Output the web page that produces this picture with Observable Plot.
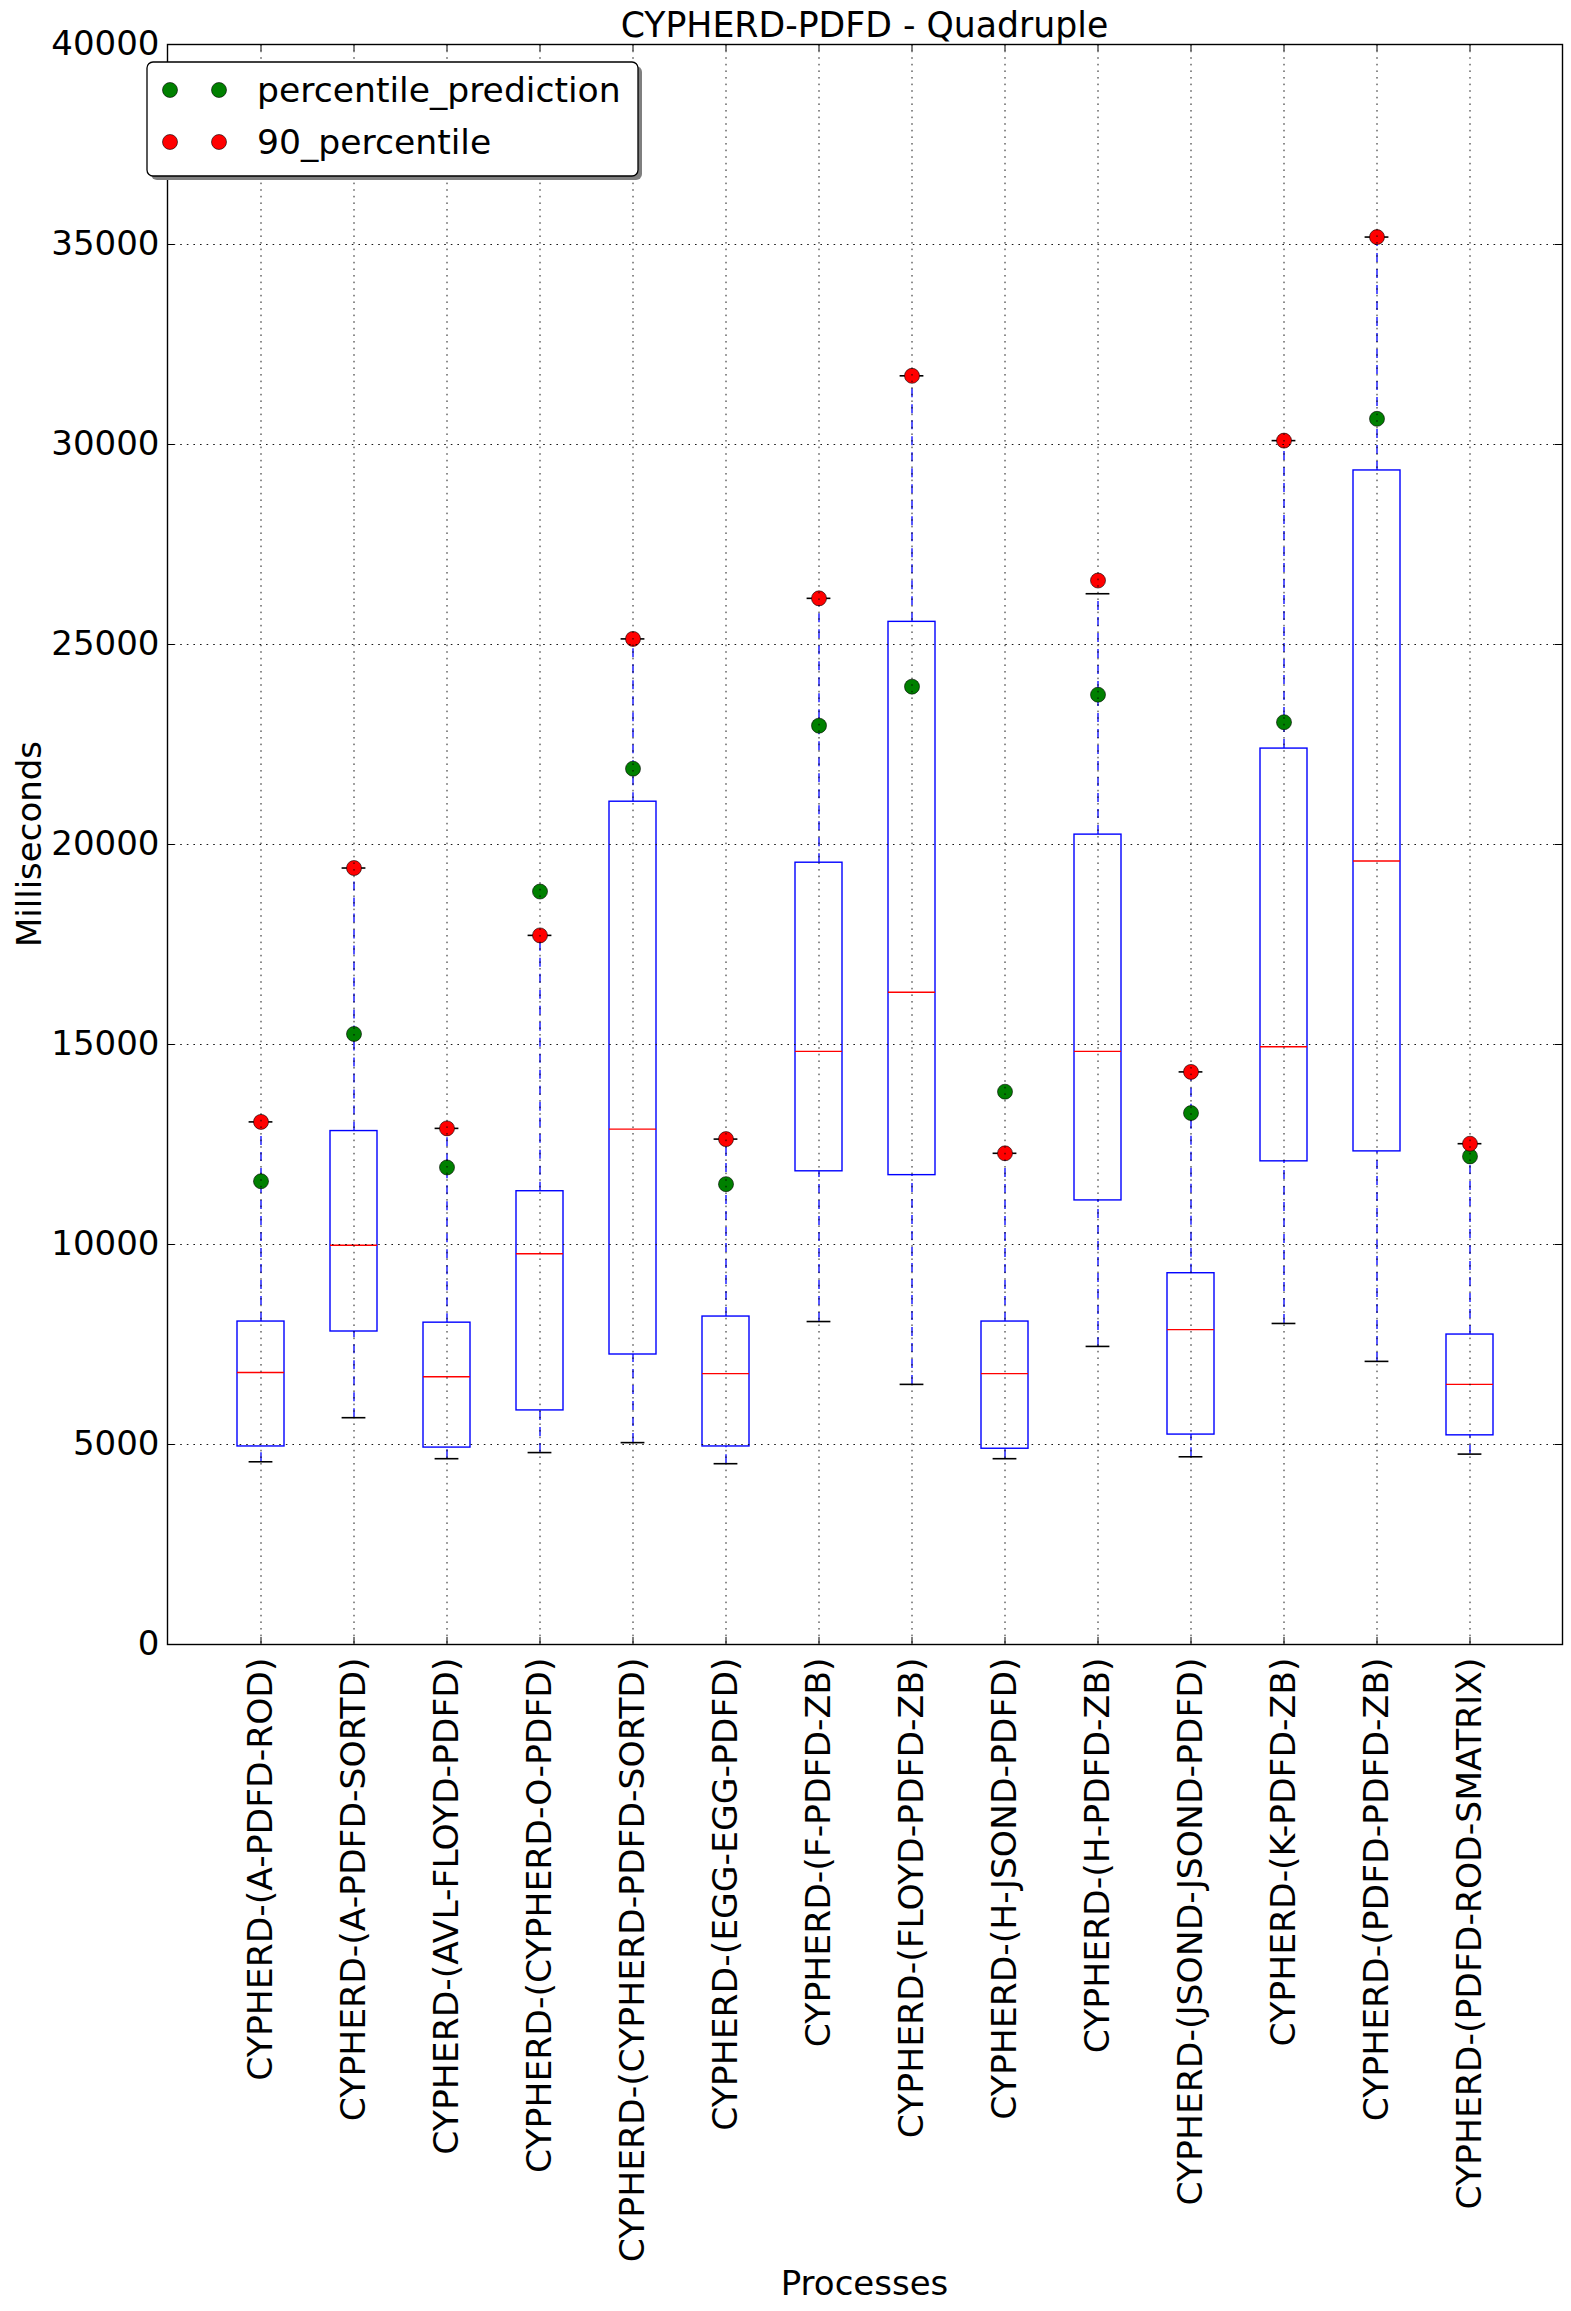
<!DOCTYPE html>
<html>
<head>
<meta charset="utf-8">
<script src="https://cdn.jsdelivr.net/npm/d3@7"></script>
<script src="https://cdn.jsdelivr.net/npm/@observablehq/plot@0.6"></script>
<style>
  html, body { margin: 0; padding: 0; background: white; }
  #wrap { position: relative; width: 1571px; height: 2311px; }
  #wrap svg { position: absolute; left: 0; top: 0; }
</style>
</head>
<body>
<div id="wrap"></div>
<script>
// ---- data ----
const categories = [
  "CYPHERD-(A-PDFD-ROD)",
  "CYPHERD-(A-PDFD-SORTD)",
  "CYPHERD-(AVL-FLOYD-PDFD)",
  "CYPHERD-(CYPHERD-O-PDFD)",
  "CYPHERD-(CYPHERD-PDFD-SORTD)",
  "CYPHERD-(EGG-EGG-PDFD)",
  "CYPHERD-(F-PDFD-ZB)",
  "CYPHERD-(FLOYD-PDFD-ZB)",
  "CYPHERD-(H-JSOND-PDFD)",
  "CYPHERD-(H-PDFD-ZB)",
  "CYPHERD-(JSOND-JSOND-PDFD)",
  "CYPHERD-(K-PDFD-ZB)",
  "CYPHERD-(PDFD-PDFD-ZB)",
  "CYPHERD-(PDFD-ROD-SMATRIX)"
];
const whiskerLow  = [4568, 5670, 4645, 4798, 5047, 4520, 8074, 6503, 4645, 7452, 4693, 8026, 7078, 4760];
const q1          = [4951, 7825, 4923, 5852, 7250, 4951, 11830, 11734, 4894, 11102, 5248, 12079, 12328, 5229];
const median      = [6800, 9981, 6695, 9770, 12884, 6772, 14828, 16305, 6772, 14828, 7873, 14943, 19588, 6503];
const q3          = [8074, 12836, 8046, 11332, 21070, 8199, 19545, 25566, 8074, 20247, 9282, 22398, 29351, 7749];
const whiskerHigh = [13065, 19412, 12903, 17728, 25140, 12635, 26154, 31717, 12280, 26269, 14315, 30097, 35186, 12520];
const p90         = [13065, 19412, 12903, 17728, 25140, 12635, 26154, 31717, 12280, 26599, 14315, 30097, 35186, 12520];
const prediction  = [11581, 15263, 11926, 18824, 21895, 11509, 22971, 23946, 13820, 23745, 13286, 23057, 30642, 12203];
const yTicks = [0, 5000, 10000, 15000, 20000, 25000, 30000, 35000, 40000];
const seriesNames = ["percentile_prediction", "90_percentile"];
const titleText = "CYPHERD-PDFD - Quadruple";
const xLabel = "Processes";
const yLabel = "Milliseconds";

const rows = categories.map((c, i) => ({
  cat: c, lo: whiskerLow[i], q1: q1[i], med: median[i], q3: q3[i], hi: whiskerHigh[i],
  p90: p90[i], pred: prediction[i]
}));

const W = 1571, H = 2311;
const mL = 167, mR = 9, mT = 44, mB = 667;
const frameW = W - mL - mR, frameH = H - mT - mB;
const FONT = "DejaVu Sans";
const FS = 34;
const FSX = 34.6;
const gridStyle = {stroke: "black", strokeOpacity: 1, strokeWidth: 0.9, strokeDasharray: "1.6,5"};

const chart = Plot.plot({
  width: W,
  height: H,
  marginLeft: mL, marginRight: mR, marginTop: mT, marginBottom: mB,
  style: {fontFamily: FONT, fontSize: FS + "px", background: "transparent", color: "black", overflow: "visible"},
  x: {type: "band", domain: categories, paddingInner: 0.5, paddingOuter: 0.75, align: 0.5},
  y: {domain: [0, 40000]},
  marks: [
    // whiskers (dashed blue)
    Plot.ruleX(rows, {x: "cat", y1: "q3", y2: "hi", stroke: "#0000ff", strokeWidth: 1.3, strokeDasharray: "9,7"}),
    Plot.ruleX(rows, {x: "cat", y1: "lo", y2: "q1", stroke: "#0000ff", strokeWidth: 1.3, strokeDasharray: "9,7"}),
    // caps
    Plot.tickY(rows, {x: "cat", y: "hi", stroke: "black", strokeWidth: 1.6, insetLeft: 11.6, insetRight: 11.6}),
    Plot.tickY(rows, {x: "cat", y: "lo", stroke: "black", strokeWidth: 1.6, insetLeft: 11.6, insetRight: 11.6}),
    // boxes
    Plot.barY(rows, {x: "cat", y1: "q1", y2: "q3", fill: "none", stroke: "#0000ff", strokeWidth: 1.4}),
    // medians
    Plot.tickY(rows, {x: "cat", y: "med", stroke: "#ff0000", strokeWidth: 1.4}),
    // points
    Plot.dot(rows, {x: "cat", y: "pred", r: 7.5, fill: "#008000", stroke: "black", strokeWidth: 0.6}),
    Plot.dot(rows, {x: "cat", y: "p90", r: 7.5, fill: "#ff0000", stroke: "black", strokeWidth: 0.6}),
    // grid (drawn above the data, matplotlib classic)
    Plot.gridX({...gridStyle}),
    Plot.gridY(yTicks, {...gridStyle}),
    // inward ticks
    Plot.tickX(categories, {x: d => d, stroke: "black", strokeWidth: 1, insetTop: frameH - 7}),
    Plot.tickX(categories, {x: d => d, stroke: "black", strokeWidth: 1, insetBottom: frameH - 7}),
    Plot.tickY(yTicks, {y: d => d, stroke: "black", strokeWidth: 1, insetRight: frameW - 7}),
    Plot.tickY(yTicks, {y: d => d, stroke: "black", strokeWidth: 1, insetLeft: frameW - 7}),
    // axes
    Plot.axisY(yTicks, {tickSize: 0, tickPadding: 8, fontSize: FS, tickFormat: d => String(d), label: null}),
    Plot.axisX({tickSize: 0, tickPadding: 13, tickRotate: -90, fontSize: FSX, label: null}),
    Plot.frame({stroke: "black", strokeWidth: 1.4})
  ]
});

const wrap = document.getElementById("wrap");
wrap.appendChild(chart);

// ---- overlay: title, axis labels, legend ----
const ov = d3.select(wrap).append("svg")
  .attr("width", W).attr("height", H)
  .attr("font-family", FONT).attr("font-size", FS);

ov.append("text").attr("x", mL + frameW / 2).attr("y", 37).attr("font-size", 34.7)
  .attr("text-anchor", "middle").attr("fill", "black").text(titleText);
ov.append("text").attr("x", mL + frameW / 2).attr("y", 2295)
  .attr("text-anchor", "middle").attr("fill", "black").text(xLabel);
ov.append("text").attr("transform", `translate(41,${mT + frameH / 2}) rotate(-90)`)
  .attr("text-anchor", "middle").attr("fill", "black").text(yLabel);

// legend
const lg = ov.append("g");
lg.append("rect").attr("x", 151).attr("y", 66).attr("width", 491).attr("height", 114)
  .attr("rx", 6).attr("fill", "#7f7f7f");
lg.append("rect").attr("x", 147).attr("y", 62).attr("width", 491).attr("height", 114)
  .attr("rx", 6).attr("fill", "white").attr("stroke", "black").attr("stroke-width", 1.3);
const legendColors = ["#008000", "#ff0000"];
seriesNames.forEach((name, i) => {
  const cy = 90 + i * 52;
  [170, 219].forEach(cx => {
    lg.append("circle").attr("cx", cx).attr("cy", cy).attr("r", 7.5)
      .attr("fill", legendColors[i]).attr("stroke", "black").attr("stroke-width", 0.6);
  });
  lg.append("text").attr("x", 257).attr("y", cy + 12).attr("font-size", 34.6)
    .attr("fill", "black").text(name);
});
</script>
</body>
</html>
